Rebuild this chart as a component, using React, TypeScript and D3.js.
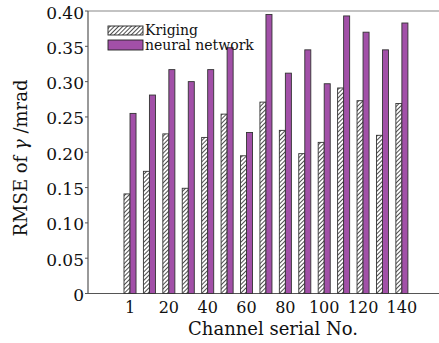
import React from 'react';
import * as d3 from 'd3';

// channel serial numbers (x categories)
const channels = ['1', '10', '20', '30', '40', '50', '60', '70', '80', '90', '100', '110', '120', '130', '140'];
// RMSE of gamma (mrad)
const kriging = [0.141, 0.173, 0.226, 0.149, 0.221, 0.254, 0.195, 0.271, 0.231, 0.198, 0.214, 0.291, 0.273, 0.224, 0.269];
const neural = [0.255, 0.281, 0.317, 0.300, 0.317, 0.348, 0.228, 0.395, 0.312, 0.345, 0.297, 0.393, 0.370, 0.345, 0.383];
const seriesNames = ['Kriging', 'neural network'];
const shownLabels = ['1', '20', '40', '60', '80', '100', '120', '140'];
const yTicks = [0, 0.05, 0.1, 0.15, 0.2, 0.25, 0.3, 0.35, 0.4];

const W = 439;
const H = 343;
const left = 88;
const top = 11;
const bottom = 293.5;
const font = '"DejaVu Serif", serif';
const purple = '#a250a8';

export default function App() {
  const y = d3.scaleLinear().domain([0, 0.4]).range([bottom, top]);
  const x = d3.scaleBand<string>()
    .domain(channels)
    .range([120.3, 411.6])
    .paddingInner(0.38)
    .paddingOuter(0.19);
  const x1 = d3.scaleBand<string>().domain(seriesNames).range([0, x.bandwidth()]);
  const fmt = (v: number) => (v === 0 ? '0' : d3.format('.2f')(v));

  return (
    <svg width={W} height={H} style={{ position: 'absolute', left: 0, top: 0, background: '#fff' }}>
      <defs>
        <pattern id="hatch" patternUnits="userSpaceOnUse" width={3} height={3} patternTransform="rotate(45)">
          <rect width={3} height={3} fill="#fff" />
          <line x1={0.5} y1={0} x2={0.5} y2={3} stroke="#222" strokeWidth={0.8} />
        </pattern>
      </defs>

      {/* frame */}
      <line x1={left} x2={W} y1={top} y2={top} stroke="#888" strokeWidth={1.2} />
      <line x1={left} x2={W} y1={bottom} y2={bottom} stroke="#555" strokeWidth={1.2} />
      <line x1={left} x2={left} y1={top} y2={bottom} stroke="#555" strokeWidth={1.2} />

      {/* y ticks */}
      {yTicks.map((t) => (
        <g key={t}>
          <line x1={left - 3} x2={left} y1={y(t)} y2={y(t)} stroke="#555" />
          <text x={84} y={y(t) + 7.5} textAnchor="end" fontFamily={font} fontSize={17} fill="#111">
            {fmt(t)}
          </text>
        </g>
      ))}

      {/* bars */}
      {channels.map((c, i) => (
        <g key={c} transform={`translate(${x(c)},0)`}>
          <rect
            x={x1('Kriging')}
            y={y(kriging[i])}
            width={x1.bandwidth()}
            height={bottom - y(kriging[i])}
            fill="url(#hatch)"
            stroke="#333"
            strokeWidth={0.9}
          />
          <rect
            x={x1('neural network')}
            y={y(neural[i])}
            width={x1.bandwidth()}
            height={bottom - y(neural[i])}
            fill={purple}
            stroke="#333"
            strokeWidth={0.9}
          />
        </g>
      ))}

      {/* x labels */}
      {shownLabels.map((c) => (
        <text
          key={c}
          x={(x(c) ?? 0) + x.bandwidth() / 2}
          y={313}
          textAnchor="middle"
          fontFamily={font}
          fontSize={16}
          fill="#111"
        >
          {c}
        </text>
      ))}

      {/* legend */}
      <rect x={108} y={26} width={35} height={9} fill="url(#hatch)" stroke="#222" strokeWidth={0.9} />
      <rect x={108} y={40} width={35} height={10} fill={purple} stroke="#222" strokeWidth={0.9} />
      <text x={145} y={34.5} fontFamily={font} fontSize={14} fill="#111">Kriging</text>
      <text x={145} y={50} fontFamily={font} fontSize={14} fill="#111">neural network</text>

      {/* axis titles */}
      <text x={273} y={335} textAnchor="middle" fontFamily={font} fontSize={18} fill="#111">
        Channel serial No.
      </text>
      <text
        transform="translate(27,158) rotate(-90)"
        textAnchor="middle"
        fontFamily={font}
        fontSize={18}
        fill="#111"
      >
        RMSE of <tspan fontStyle="italic">γ</tspan> /mrad
      </text>
    </svg>
  );
}
